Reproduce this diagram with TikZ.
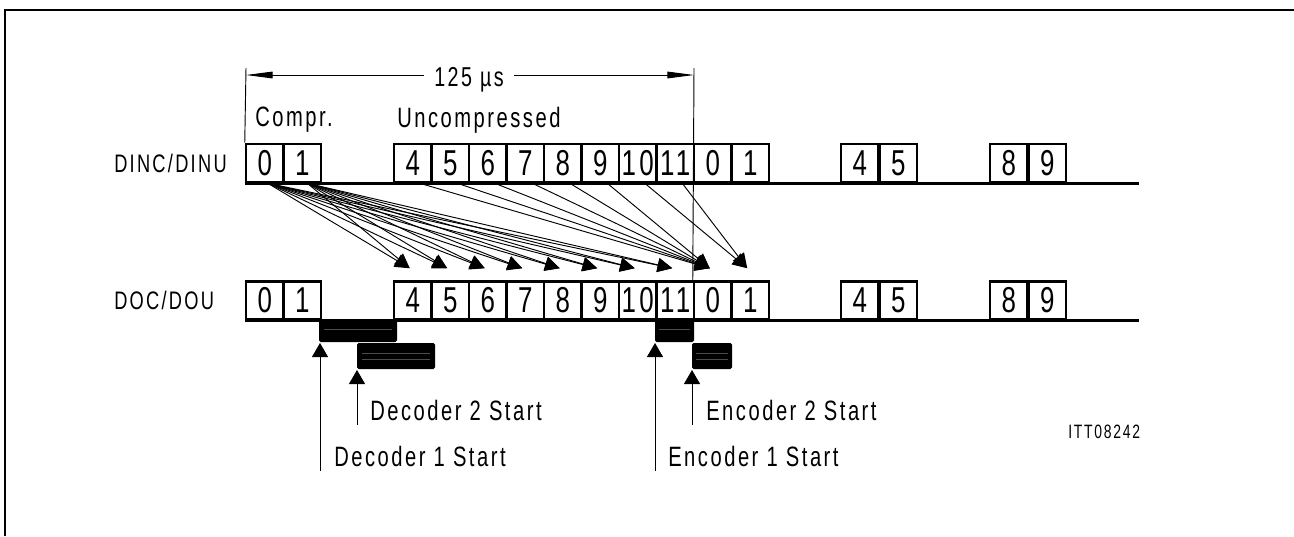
\documentclass[tikz,border=0pt]{standalone}
\usepackage{fontspec}
\setmainfont{Liberation Sans}[FakeStretch=0.72,LetterSpace=9]
\usetikzlibrary{arrows.meta,calc}

\newcommand{\slotfont}{\fontsize{27}{29}\selectfont}
\newcommand{\labfont}{\fontsize{21}{23}\selectfont}
\newcommand{\rowfont}{\fontsize{19}{21}\selectfont}
\newcommand{\dimfont}{\fontsize{20.5}{22}\selectfont}
\newcommand{\tagfont}{\fontsize{14.5}{16}\selectfont}

\begin{document}
\begin{tikzpicture}[x=0.75pt,y=0.75pt,yscale=-1,xscale=1,
  slot/.style={draw,line width=1.9pt,minimum width=28.1pt,minimum height=28.5pt,inner sep=0pt,font=\slotfont},
  rail/.style={line width=2.2pt},
  lbl/.style={anchor=west,inner sep=0pt,font=\labfont},
  tick/.style={line width=0.7pt},
  dimline/.style={line width=0.7pt,-{Triangle[length=20pt,width=5pt]}},
  fan/.style={line width=0.7pt,-{Triangle[length=11pt,width=10.5pt]}},
  up/.style={line width=0.7pt,-{Triangle[length=10.5pt,width=12pt]}},
  bar/.style={fill=black,rounded corners=1.2pt},
  hatch/.style={black!70,line width=0.4pt}]
\useasboundingbox (0,0) rectangle (1294,536);

%frame
\draw[line width=1.5pt] (1294,10) -- (5,10) -- (5,536);

%rows of time slots
\foreach \row/\yc in {i/163,o/300.5}{
  \foreach \lab [count=\k from 0] in {0,1}
    \node[slot] (\row a\k) at ({264.75+37.5*\k},\yc) {\lab};
  \foreach \lab [count=\k from 0] in {4,5,6,7,8,9,10,11,0,1}
    \node[slot] (\row b\k) at ({412.75+37.5*\k},\yc) {\lab};
  \foreach \lab [count=\k from 0] in {4,5}
    \node[slot] (\row c\k) at ({859.75+38.5*\k},\yc) {\lab};
  \foreach \lab [count=\k from 0] in {8,9}
    \node[slot] (\row d\k) at ({1008.75+38.5*\k},\yc) {\lab};
  \draw[rail] (\row a0.south west) -- ++(894,0);
}

\node[lbl,font=\rowfont] (dinc) at (114,163) {DINC/DINU};
\node[lbl,font=\rowfont] (doc) at (114,300.5) {DOC/DOU};
\node[lbl] (compr) at (255,120) {Compr.};
\node[lbl] (uncompr) at (397,120) {Uncompressed};

%frame length
\coordinate (tl) at (246,75);
\coordinate (tr) at (694,75);
\node[font=\dimfont,inner sep=0pt] (dim) at (469,80) {125 µs};
\draw[tick] (tl) ++(0,-7) -- (ia0.north west);
\draw[tick] (tr) ++(0,-7) -- (ob8.north west);
\draw[dimline] ($(dim.west |- tl)+(-10,0)$) -- (tl);
\draw[dimline] ($(dim.east |- tr)+(10,0)$) -- (tr);

%decoding and encoding paths
\foreach \k in {0,...,9}
  \coordinate (t\k) at ($(ob\k.north west)+(17,-12)$);
\foreach \k in {0,...,7}{
  \draw[fan] ($(ia0.south)+(3,0)$) -- (t\k);
  \draw[fan] ($(ia1.south)+(5,0)$) -- (t\k);
}
\foreach \k in {0,...,5}
  \draw[fan] ($(ib\k.south)+(7,0)$) -- (t8);
\foreach \k in {6,7}
  \draw[fan] ($(ib\k.south)+(7,0)$) -- (t9);

%busy bars
\coordinate (dec1) at (319,342);
\coordinate (dec2) at (357,369);
\coordinate (enc1) at (655,342);
\coordinate (enc2) at (692,369);
\fill[bar] (dec1) rectangle ++(78,-22);
\fill[bar] (dec2) rectangle ++(78,-26);
\fill[bar] (enc1) rectangle ++(39,-22);
\fill[bar] (enc2) rectangle ++(40,-26);
\draw[hatch] ($(dec1)+(5,-13)$) -- ++(68,0);
\draw[hatch] ($(dec2)+(5,-16)$) -- ++(68,0);
\draw[hatch] ($(dec2)+(5,-10)$) -- ++(68,0);
\draw[hatch] ($(enc1)+(4,-13)$) -- ++(31,0);
\draw[hatch] ($(enc2)+(4,-16)$) -- ++(32,0);
\draw[hatch] ($(enc2)+(4,-10)$) -- ++(32,0);

%start markers
\node[lbl] (d2txt) at (370,410) {Decoder 2 Start};
\node[lbl] (d1txt) at (334,456) {Decoder 1 Start};
\node[lbl] (e2txt) at (706,410) {Encoder 2 Start};
\node[lbl] (e1txt) at (668,456) {Encoder 1 Start};
\draw[up] ($(dec1 |- d1txt.south)+(1,4)$) -- ($(dec1)+(1,1)$);
\draw[up] ($(dec2 |- d2txt.south)+(0,4)$) -- ($(dec2)+(0,1)$);
\draw[up] ($(enc1 |- e1txt.south)+(0,4)$) -- ($(enc1)+(0,1)$);
\draw[up] ($(enc2 |- e2txt.south)+(0,4)$) -- ($(enc2)+(0,1)$);

\node[lbl,font=\tagfont] (tag) at (1068,432) {ITT08242};

\end{tikzpicture}
\end{document}
